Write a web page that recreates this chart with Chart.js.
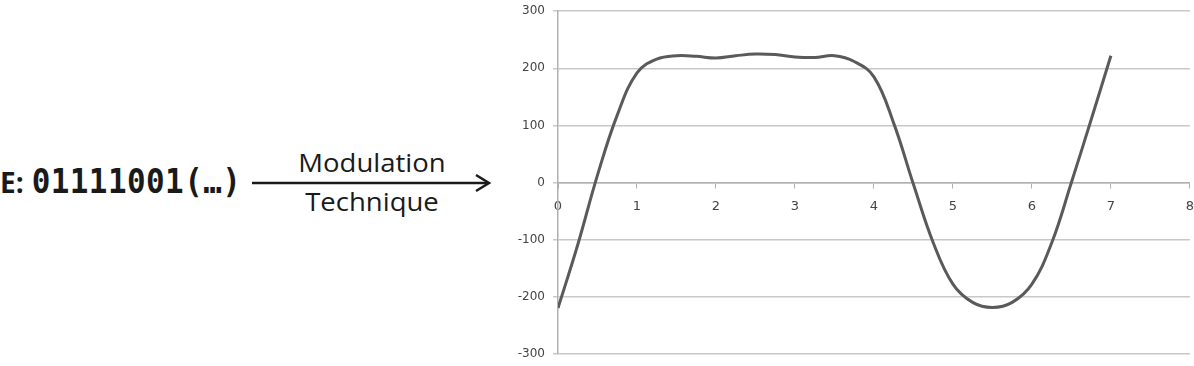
<!DOCTYPE html>
<html><head><meta charset="utf-8">
<script src="https://cdn.jsdelivr.net/npm/chart.js@4.4.0/dist/chart.umd.min.js"></script>
<style>
html,body{margin:0;padding:0;width:1194px;height:366px;overflow:hidden;background:#fff;}
#left{position:absolute;left:0;top:0;width:500px;height:366px;}
.msg{position:absolute;left:0;top:163px;white-space:nowrap;color:#1a1a1a;font-weight:bold;}
.msg .e{font-family:"Open Sans",sans-serif;font-size:28px;}
.msg .bits{font-family:"DejaVu Sans Mono",monospace;font-size:31px;margin-left:8px;letter-spacing:0.4px;display:inline-block;transform:scaleY(1.1);transform-origin:50% 70%;}
.lab{position:absolute;font-family:"Open Sans",sans-serif;font-size:25px;color:#1a1a1a;text-align:center;width:240px;left:252px;transform:scaleX(1.1);}
#wrap{position:absolute;left:500px;top:-4px;width:705px;height:373px;}
</style></head>
<body>
<div id="left">
  <div class="msg"><span class="e">E:</span><span class="bits">01111001(…)</span></div>
  <div class="lab" style="top:145px">Modulation</div>
  <div class="lab" style="top:184px">Technique</div>
  <svg width="500" height="366" style="position:absolute;left:0;top:0">
    <line x1="252" y1="183" x2="488" y2="183" stroke="#1a1a1a" stroke-width="2.5"/>
    <polyline points="476,175 489,183 476,191" fill="none" stroke="#1a1a1a" stroke-width="2.5"/>
  </svg>
</div>
<div id="wrap"><canvas id="c"></canvas></div>
<script>
const xValues = [0,0.25,0.5,0.75,1,1.25,1.5,1.75,2,2.25,2.5,2.75,3,3.25,3.5,3.75,4,4.25,4.5,4.75,5,5.25,5.5,5.75,6,6.25,6.5,6.75,7];
const yValues = [-220,-109,13,118,192,216,222,221,218,222,225,224,220,219,222,212,185,104,-3,-105,-178,-210,-219,-210,-178,-106,0,110,222];
const xTicks = [0,1,2,3,4,5,6,7,8];
const yTicks = [-300,-200,-100,0,100,200,300];

const points = xValues.map((x,i)=>({x:x,y:yValues[i]}));
new Chart(document.getElementById('c'),{
  type:'scatter',
  data:{datasets:[{data:points,showLine:true,borderColor:'#5a5a5a',borderWidth:3,pointRadius:0,tension:0.4,fill:false}]},
  options:{
    responsive:true,maintainAspectRatio:false,animation:false,
    layout:{padding:{top:0,right:1,bottom:4,left:0}},
    plugins:{legend:{display:false},tooltip:{enabled:false}},
    scales:{
      x:{type:'linear',min:0,max:8,position:{y:0},
        afterBuildTicks:(s)=>{s.ticks=xTicks.map(v=>({value:v}));},
        grid:{drawOnChartArea:false,drawTicks:true,tickLength:5,color:'#b0b0b0'},
        border:{color:'#b0b0b0',width:1.5},
        ticks:{color:'#444',font:{family:'DejaVu Sans',size:13},padding:11}},
      y:{min:-300,max:300,
        afterBuildTicks:(s)=>{s.ticks=yTicks.map(v=>({value:v}));},
        afterFit:(s)=>{s.width=58;},
        grid:{color:'#c8c8c8',lineWidth:1.5,tickLength:5},
        border:{color:'#b0b0b0',width:1.5},
        ticks:{color:'#444',font:{family:'DejaVu Sans',size:12},padding:8}}
    }
  }
});
</script>
</body></html>
